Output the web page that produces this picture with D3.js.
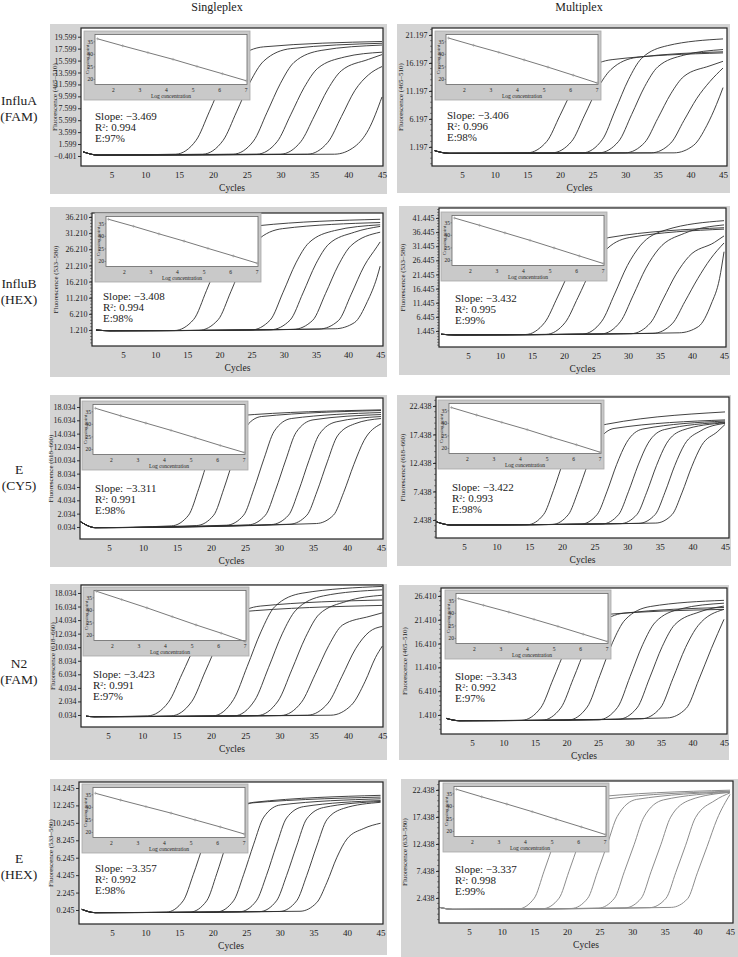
<!DOCTYPE html>
<html>
<head>
<meta charset="utf-8">
<script src="https://cdn.jsdelivr.net/npm/d3@7"></script>
<style>
body { margin: 0; background: #fff; }
svg { display: block; }
text { font-family: "Liberation Serif", "Times New Roman", serif; fill: #222; }
</style>
</head>
<body>
<svg width="738" height="957"></svg>
<script>
// ---- data ----
const columns = ['Singleplex', 'Multiplex'];
const rowLabels = [['InfluA', '(FAM)'], ['InfluB', '(HEX)'], ['E', '(CY5)'], ['N2', '(FAM)'], ['E', '(HEX)']];

// panel order: row by row, singleplex then multiplex
const yTitles = [
    'Fluorescence (465–510)', 'Fluorescence (465–510)',
    'Fluorescence (533–580)', 'Fluorescence (533–580)',
    'Fluorescence (618–660)', 'Fluorescence (618–660)',
    'Fluorescence (618–660)', 'Fluorescence (465–510)',
    'Fluorescence (533–580)', 'Fluorescence (633–580)'
];
const yTicks = [
    [-0.401, 1.599, 3.599, 5.599, 7.599, 9.599, 11.599, 13.599, 15.599, 17.599, 19.599],
    [1.197, 6.197, 11.197, 16.197, 21.197],
    [1.210, 6.210, 11.210, 16.210, 21.210, 26.210, 31.210, 36.210],
    [1.445, 6.445, 11.445, 16.445, 21.445, 26.445, 31.445, 36.445, 41.445],
    [0.034, 2.034, 4.034, 6.034, 8.034, 10.034, 12.034, 14.034, 16.034, 18.034],
    [2.438, 7.438, 12.438, 17.438, 22.438],
    [0.034, 2.034, 4.034, 6.034, 8.034, 10.034, 12.034, 14.034, 16.034, 18.034],
    [1.410, 6.410, 11.410, 16.410, 21.410, 26.410],
    [0.245, 2.245, 4.245, 6.245, 8.245, 10.245, 12.245, 14.245],
    [2.438, 7.438, 12.438, 17.438, 22.438]
];
const xTicks = [5, 10, 15, 20, 25, 30, 35, 40, 45];

const slopes = ['−3.469', '−3.406', '−3.408', '−3.432', '−3.311', '−3.422', '−3.423', '−3.343', '−3.357', '−3.337'];
const r2 = ['0.994', '0.996', '0.994', '0.995', '0.991', '0.993', '0.991', '0.992', '0.992', '0.998'];
const eff = ['97%', '98%', '98%', '99%', '98%', '98%', '97%', '97%', '98%', '99%'];

// standard curve insets
const logConc = [1.4, 2.35, 3.3, 4.25, 5.15, 6.1, 7.0];
const crossing = [
    [36.2, 33.4, 30.7, 28.0, 25.2, 22.3, 19.5],
    [36.5, 33.6, 30.8, 27.8, 24.9, 21.7, 18.6],
    [36.8, 34.0, 31.0, 28.1, 25.2, 22.2, 19.3],
    [36.9, 34.0, 31.0, 28.0, 25.0, 21.8, 18.8],
    [36.4, 33.4, 30.5, 27.6, 24.7, 21.6, 18.8],
    [36.3, 33.3, 30.4, 27.5, 24.5, 21.5, 18.5],
    [37.6, 34.3, 31.0, 27.5, 24.2, 20.9, 17.6],
    [35.9, 33.2, 30.5, 27.6, 24.8, 21.7, 18.8],
    [35.6, 32.9, 30.3, 27.7, 25.0, 22.2, 19.4],
    [36.8, 33.8, 30.9, 27.9, 24.9, 21.8, 18.8]
];
const insetXTicks = [2, 3, 4, 5, 6, 7];
const insetYTicks = [20, 25, 30, 35];

// amplification curves, [cycle, fluorescence]
const curves = [
    [ // InfluA singleplex
        [[0.8,0.3],[3,-0.25],[14.5,-0.1],[17.5,2.2],[19.5,7.1],[21.5,12.2],[23.5,15.8],[27.5,17.9],[45,18.8]],
        [[0.8,0.3],[3,-0.25],[18.5,-0.1],[21.5,2.2],[23.5,7.0],[25.5,12.0],[27.5,15.5],[31.5,17.6],[45,18.5]],
        [[0.8,0.3],[3,-0.25],[23,-0.1],[26,2.1],[28,6.9],[30,11.8],[32,15.3],[36,17.3],[45,18.2]],
        [[0.8,0.3],[3,-0.25],[26.5,-0.1],[29.5,2.0],[31.5,6.5],[33.5,11.1],[35.5,14.3],[39.5,16.2],[45,17.0]],
        [[0.8,0.3],[3,-0.25],[30,-0.1],[33,2.0],[35,6.3],[37,10.8],[39,13.9],[43,15.8],[45,16.6]],
        [[0.8,0.3],[3,-0.25],[34,-0.1],[37,1.9],[39,6.2],[41,10.6],[43,13.2],[45,14.6]],
        [[0.8,0.3],[3,-0.25],[38,-0.1],[41,1.2],[43,4.0],[45,9.5]]
    ],
    [ // InfluA multiplex
        [[0.8,0.54],[3,0.07],[15,0.15],[18,2.2],[20,6.8],[22,11.5],[24,14.8],[28,16.8],[45,18.0]],
        [[0.8,0.54],[3,0.07],[18.8,0.15],[21.8,2.2],[23.8,6.9],[25.8,11.7],[27.8,15.0],[31.8,17.2],[45,18.2]],
        [[0.8,0.54],[3,0.07],[23.5,0.15],[26.5,2.5],[28.5,7.8],[30.5,13.2],[32.5,17.0],[36.5,19.3],[45,20.5]],
        [[0.8,0.54],[3,0.07],[26,0.15],[29,2.2],[31,7.0],[33,12.0],[35,15.5],[39,17.6],[45,18.6]],
        [[0.8,0.54],[3,0.07],[30,0.15],[33,2.0],[35,6.3],[37,10.7],[39,13.8],[43,15.7],[45,16.5]],
        [[0.8,0.54],[3,0.07],[34,0.15],[37,1.9],[39,5.9],[41,9.9],[43,12.9],[45,15.3]],
        [[0.8,0.54],[3,0.07],[37.5,0.15],[40.5,1.5],[42.5,5.0],[44,8.8],[45,11.8]]
    ],
    [ // InfluB singleplex
        [[0.8,1.2],[3,0.98],[13,1.05],[16,4.5],[18,13.5],[20,23.0],[22,29.5],[26,33.5],[45,35.5]],
        [[0.8,1.2],[3,0.98],[16.8,1.1],[19.8,4.4],[21.8,13.2],[23.8,22.5],[25.8,28.8],[29.8,32.6],[45,34.5]],
        [[0.8,1.2],[3,0.98],[24.9,1.2],[27.9,4.3],[29.9,12.9],[31.9,22.0],[33.9,28.2],[37.9,32.0],[45,33.8]],
        [[0.8,1.2],[3,0.98],[28,1.3],[31,4.3],[33,12.7],[35,21.7],[37,27.8],[41,31.5],[45,33.3]],
        [[0.8,1.2],[3,0.98],[31.5,1.4],[34.5,4.2],[36.5,12.5],[38.5,21.3],[40.5,27.4],[45,31.5]],
        [[0.8,1.2],[3,0.98],[35.5,1.5],[38.5,4.1],[40.5,12.3],[42.5,21.0],[44.5,27.0],[45,28.5]],
        [[0.8,1.2],[3,0.98],[38,1.6],[41,3.5],[43,10.0],[44.5,17.5],[45,21.0]]
    ],
    [ // InfluB multiplex
        [[0.8,0.3],[3,0.05],[14,0.2],[17,4.5],[19,13.5],[21,23.0],[23,29.5],[27,34.5],[45,38.0]],
        [[0.8,0.3],[3,0.05],[17.2,0.25],[20.2,4.5],[22.2,13.4],[24.2,22.8],[26.2,29.3],[30.2,34.5],[45,37.5]],
        [[0.8,0.3],[3,0.05],[22.9,0.35],[25.9,4.9],[27.9,14.5],[29.9,24.6],[31.9,31.6],[35.9,37.2],[45,40.5]],
        [[0.8,0.3],[3,0.05],[25.8,0.4],[28.8,4.7],[30.8,14.0],[32.8,23.7],[34.8,30.5],[38.8,36.0],[45,39.0]],
        [[0.8,0.3],[3,0.05],[30.5,0.5],[33.5,4.3],[35.5,12.8],[37.5,21.5],[39.5,27.8],[43.5,32.8],[45,35.1]],
        [[0.8,0.3],[3,0.05],[33.9,0.6],[36.9,4.0],[38.9,11.9],[40.9,20.0],[42.9,27.0],[45,32.6]],
        [[0.8,0.3],[3,0.05],[38,0.8],[41,3.0],[43,11.0],[44.3,20.0],[45,29.5]]
    ],
    [ // E (CY5) singleplex
        [[0.8,0.83],[3,-0.07],[14.2,0.2],[16.7,1.8],[18.2,5.8],[19.7,10.6],[21.2,14.8],[23.7,16.7],[45,17.6]],
        [[0.8,0.83],[3,-0.07],[17.9,0.25],[20.4,1.8],[21.9,5.8],[23.4,10.5],[24.9,14.7],[27.4,16.6],[45,17.5]],
        [[0.8,0.83],[3,-0.07],[22.3,0.3],[24.8,1.8],[26.3,5.7],[27.8,10.3],[29.3,14.4],[31.8,16.3],[45,17.2]],
        [[0.8,0.83],[3,-0.07],[25.5,0.35],[28,1.8],[29.5,5.6],[31,10.1],[32.5,14.2],[35,16.1],[45,16.9]],
        [[0.8,0.83],[3,-0.07],[28.9,0.4],[31.4,1.8],[32.9,5.5],[34.4,10.0],[35.9,13.9],[38.4,15.8],[45,16.6]],
        [[0.8,0.83],[3,-0.07],[31.6,0.45],[34.1,1.8],[35.6,5.4],[37.1,9.8],[38.6,13.7],[41.1,15.5],[45,16.3]],
        [[0.8,0.83],[3,-0.07],[35.5,0.55],[38,1.8],[39.5,5.2],[41,9.4],[42.5,13.0],[45,15.5]]
    ],
    [ // E (CY5) multiplex
        [[0.8,2.1],[3,1.56],[14.7,1.6],[17.2,3.4],[18.7,7.6],[20.2,12.6],[21.7,16.4],[24.2,18.6],[45,21.4]],
        [[0.8,2.1],[3,1.56],[18.5,1.65],[21,3.4],[22.5,7.5],[24,12.3],[25.5,16.1],[28,18.5],[45,20.0]],
        [[0.8,2.1],[3,1.56],[22.9,1.7],[25.4,3.4],[26.9,7.4],[28.4,12.2],[29.9,16.0],[32.4,18.4],[45,19.8]],
        [[0.8,2.1],[3,1.56],[26.2,1.75],[28.7,3.4],[30.2,7.4],[31.7,12.1],[33.2,15.9],[35.7,18.3],[45,19.6]],
        [[0.8,2.1],[3,1.56],[29,1.8],[31.5,3.4],[33,7.3],[34.5,12.0],[36,15.8],[38.5,18.2],[45,19.5]],
        [[0.8,2.1],[3,1.56],[31.8,1.85],[34.3,3.4],[35.8,7.3],[37.3,12.0],[38.8,15.7],[41.3,18.1],[45,19.4]],
        [[0.8,2.1],[3,1.56],[34.4,1.9],[36.9,3.4],[38.4,7.2],[39.9,11.8],[41.4,15.5],[43.9,18.0],[45,19.2]]
    ],
    [ // N2 singleplex
        [[1.8,-0.15],[3,-0.22],[10.8,-0.1],[13.8,1.9],[15.8,6.1],[17.8,10.4],[19.8,13.4],[23.8,15.2],[45,16.2]],
        [[1.8,-0.15],[3,-0.22],[14.2,-0.1],[17.2,2.0],[19.2,6.5],[21.2,11.0],[23.2,14.3],[27.2,16.1],[45,17.0]],
        [[1.8,-0.15],[3,-0.22],[20.3,-0.1],[23.3,2.3],[25.3,7.2],[27.3,12.3],[29.3,16.0],[33.3,18.0],[45,19.0]],
        [[1.8,-0.15],[3,-0.22],[23.4,-0.1],[26.4,2.2],[28.4,7.0],[30.4,12.0],[32.4,15.5],[36.4,17.6],[45,18.5]],
        [[1.8,-0.15],[3,-0.22],[26.8,-0.05],[29.8,2.1],[31.8,6.7],[33.8,11.5],[35.8,14.9],[39.8,16.8],[45,17.7]],
        [[1.8,-0.15],[3,-0.22],[30.2,-0.05],[33.2,1.9],[35.2,6.0],[37.2,10.3],[39.2,13.3],[43.2,14.6],[45,15.1]],
        [[1.8,-0.15],[3,-0.22],[34.1,0],[37.1,1.8],[39.1,5.7],[41.1,9.8],[43.1,12.3],[45,13.1]],
        [[1.8,-0.15],[3,-0.22],[37.5,0],[40.5,1.5],[42.5,5.0],[44,8.5],[45,10.2]]
    ],
    [ // N2 multiplex
        [[0.9,0.7],[3,0.21],[12.9,0.3],[15.9,2.9],[17.9,9.0],[19.9,15.3],[21.9,19.8],[25.9,22.5],[45,23.6]],
        [[0.9,0.7],[3,0.21],[16.1,0.3],[19.1,2.9],[21.1,9.1],[23.1,15.6],[25.1,20.2],[29.1,22.8],[45,24.0]],
        [[0.9,0.7],[3,0.21],[20.3,0.35],[23.3,3.1],[25.3,9.7],[27.3,16.6],[29.3,21.4],[33.3,24.2],[45,25.5]],
        [[0.9,0.7],[3,0.21],[25.1,0.4],[28.1,3.0],[30.1,9.5],[32.1,16.2],[34.1,20.9],[38.1,23.7],[45,24.9]],
        [[0.9,0.7],[3,0.21],[28.2,0.5],[31.2,2.9],[33.2,9.2],[35.2,15.8],[37.2,20.4],[41.2,23.1],[45,24.3]],
        [[0.9,0.7],[3,0.21],[31.9,0.6],[34.9,2.9],[36.9,9.1],[38.9,15.6],[40.9,20.2],[45,23.6]],
        [[0.9,0.7],[3,0.21],[36,0.8],[39,2.8],[41,8.8],[43,15.4],[45,21.5]]
    ],
    [ // E (HEX) singleplex
        [[0.5,0.32],[2.5,-0.06],[13.1,0],[15.6,1.3],[17.1,4.3],[18.6,7.7],[20.1,10.8],[22.6,12.3],[45,13.2]],
        [[0.5,0.32],[2.5,-0.06],[16.6,0],[19.1,1.3],[20.6,4.4],[22.1,8.0],[23.6,11.2],[26.1,12.6],[45,13.4]],
        [[0.5,0.32],[2.5,-0.06],[20.6,0.02],[23.1,1.3],[24.6,4.3],[26.1,7.8],[27.6,10.9],[30.1,12.3],[45,13.0]],
        [[0.5,0.32],[2.5,-0.06],[24,0.04],[26.5,1.3],[28,4.2],[29.5,7.7],[31,10.8],[33.5,12.1],[45,12.8]],
        [[0.5,0.32],[2.5,-0.06],[27,0.06],[29.5,1.3],[31,4.2],[32.5,7.6],[34,10.7],[36.5,12.0],[45,12.7]],
        [[0.5,0.32],[2.5,-0.06],[30,0.08],[32.5,1.3],[34,4.2],[35.5,7.6],[37,10.6],[39.5,11.9],[45,12.6]],
        [[0.5,0.32],[2.5,-0.06],[33,0.1],[35.5,1.1],[37,3.4],[38.5,6.3],[40,8.4],[42.5,9.6],[45,10.2]]
    ],
    [ // E (HEX) multiplex
        [[0.5,0.7],[2.5,0.34],[12.5,0.4],[15,2.4],[16.5,7.4],[18,12.6],[19.5,17.8],[22.5,20.9],[45,22.4]],
        [[0.5,0.7],[2.5,0.34],[16.3,0.45],[18.8,2.4],[20.3,7.3],[21.8,12.5],[23.3,17.6],[26.3,20.8],[45,22.2]],
        [[0.5,0.7],[2.5,0.34],[20.7,0.5],[23.2,2.4],[24.7,7.3],[26.2,12.4],[27.7,17.5],[30.7,20.7],[45,22.1]],
        [[0.5,0.7],[2.5,0.34],[24.8,0.55],[27.3,2.4],[28.8,7.3],[30.3,12.3],[31.8,17.4],[34.8,20.6],[45,22.0]],
        [[0.5,0.7],[2.5,0.34],[28.9,0.6],[31.4,2.4],[32.9,7.3],[34.4,12.3],[35.9,17.4],[38.9,20.6],[45,22.0]],
        [[0.5,0.7],[2.5,0.34],[32.7,0.65],[35.2,2.4],[36.7,7.2],[38.2,12.2],[39.7,17.3],[42.7,20.5],[45,21.9]],
        [[0.5,0.7],[2.5,0.34],[36,0.7],[38.5,2.3],[40,7.1],[41.5,12.0],[43,17.0],[45,21.6]]
    ]
];

// ---- layout (pixel boxes and axis domains per panel) ----
const layout = [
    {bg: [50, 24, 337, 170],  plot: [81, 28, 383, 166],   x: [0.5, 45.15],  y: [-2.08, 21.06], inset: [84, 31],   text: [95, 120],  yl: 57},
    {bg: [397, 24, 333, 169], plot: [432, 28, 727, 166],  x: [0.40, 45.61], y: [-2.2, 22.45],  inset: [435, 31],  text: [447, 119], yl: 403},
    {bg: [50, 207, 337, 170], plot: [92, 213, 383, 346],  x: [0.18, 45.44], y: [-3.74, 37.45], inset: [95, 213],  text: [103, 300], yl: 58},
    {bg: [399, 206, 331, 169],plot: [439, 208, 726, 347], x: [0.47, 45.31], y: [-4.22, 44.98], inset: [441, 212], text: [455, 302], yl: 405},
    {bg: [50, 395, 337, 172], plot: [80, 398, 383, 539],  x: [0.74, 45.29], y: [-1.77, 19.38], inset: [82, 401],  text: [95, 492],  yl: 53},
    {bg: [397, 395, 334, 171],plot: [436, 397, 729, 538], x: [0.71, 45.61], y: [-0.72, 24.02], inset: [438, 400], text: [452, 491], yl: 405},
    {bg: [50, 584, 337, 176], plot: [81, 585, 383, 727],  x: [1.06, 45.1],  y: [-1.74, 19.21], inset: [83, 587],  text: [93, 678],  yl: 55},
    {bg: [399, 585, 330, 175],plot: [441, 588, 727, 734], x: [0.08, 45.48], y: [-2.58, 28.09], inset: [445, 590], text: [455, 680], yl: 407},
    {bg: [50, 779, 337, 176], plot: [79, 782, 383, 924],  x: [0.085, 45.36],y: [-1.36, 14.93], inset: [82, 784],  text: [95, 872],  yl: 53},
    {bg: [401, 779, 337, 178],plot: [439, 781, 733, 923], x: [0.40, 45.46], y: [-2.19, 24.1],  inset: [443, 783], text: [455, 873], yl: 407}
];
const rowLabelY = [[105, 121], [288, 304], [474, 490], [668, 684], [863, 879]];

const svg = d3.select('svg');

// column titles
svg.selectAll('text.col')
    .data(columns).join('text')
    .attr('class', 'col')
    .attr('x', (d, i) => [217, 579][i])
    .attr('y', 11)
    .attr('text-anchor', 'middle')
    .attr('font-size', 12)
    .text(d => d);

// row labels
rowLabels.forEach((lab, r) => {
    svg.append('g').selectAll('text')
        .data(lab).join('text')
        .attr('x', 19)
        .attr('y', (d, i) => rowLabelY[r][i])
        .attr('text-anchor', 'middle')
        .attr('font-size', 13.5)
        .text(d => d);
});

const line = d3.line().curve(d3.curveMonotoneX);

layout.forEach((L, i) => {
    const g = svg.append('g');
    const [bx, by, bw, bh] = L.bg;
    const [x0, y0, x1, y1] = L.plot;

    g.append('rect')
        .attr('x', bx).attr('y', by)
        .attr('width', bw).attr('height', bh)
        .attr('fill', '#d4d4d4');
    g.append('rect')
        .attr('x', x0).attr('y', y0)
        .attr('width', x1 - x0).attr('height', y1 - y0)
        .attr('fill', '#fff');

    const x = d3.scaleLinear().domain(L.x).range([x0, x1]);
    const y = d3.scaleLinear().domain(L.y).range([y1, y0]);

    g.append('clipPath').attr('id', 'clip' + i)
        .append('rect')
        .attr('x', x0).attr('y', y0)
        .attr('width', x1 - x0).attr('height', y1 - y0);

    // amplification curves
    g.append('g')
        .attr('clip-path', `url(#clip${i})`)
        .selectAll('path')
        .data(curves[i]).join('path')
        .attr('d', d => line(d.map(p => [x(p[0]), y(p[1])])))
        .attr('fill', 'none')
        .attr('stroke', i === 9 ? '#8c8c8c' : '#2e2e2e')
        .attr('stroke-width', i === 9 ? 1 : 0.9);

    // minor ticks on the 5-step axes
    const step = yTicks[i][1] - yTicks[i][0];
    if (step > 3) {
        const minor = d3.range(yTicks[i][0] - 5, L.y[1], 1).filter(v => v > L.y[0]);
        g.append('g').selectAll('line')
            .data(minor).join('line')
            .attr('x1', x0 - 2).attr('x2', x0)
            .attr('y1', d => y(d)).attr('y2', d => y(d))
            .attr('stroke', '#444').attr('stroke-width', 0.6);
    }

    // y axis
    const yAxis = g.append('g')
        .attr('transform', `translate(${x0},0)`)
        .call(d3.axisLeft(y).tickValues(yTicks[i]).tickSize(3).tickPadding(1.5).tickFormat(d3.format('.3f')));
    yAxis.select('.domain').remove();
    yAxis.selectAll('text').attr('font-size', 8).attr('font-family', '"Liberation Serif", serif').attr('fill', '#222');
    yAxis.selectAll('line').attr('stroke', '#333');

    // x axis
    const xAxis = g.append('g')
        .attr('transform', `translate(0,${y1})`)
        .call(d3.axisBottom(x).tickValues(xTicks).tickSize(0).tickPadding(6));
    xAxis.select('.domain').remove();
    xAxis.selectAll('text').attr('font-size', 9).attr('font-family', '"Liberation Serif", serif').attr('fill', '#222');

    // frame
    g.append('rect')
        .attr('x', x0).attr('y', y0)
        .attr('width', x1 - x0).attr('height', y1 - y0)
        .attr('fill', 'none')
        .attr('stroke', '#222')
        .attr('stroke-width', 1.2);

    // axis titles
    g.append('text')
        .attr('transform', `translate(${L.yl},${(y0 + y1) / 2}) rotate(-90)`)
        .attr('text-anchor', 'middle')
        .attr('font-size', 7)
        .text(yTitles[i]);
    g.append('text')
        .attr('x', (x0 + x1) / 2)
        .attr('y', y1 + 25)
        .attr('text-anchor', 'middle')
        .attr('font-size', 9.5)
        .text('Cycles');

    // slope / R2 / efficiency
    const [tx, ty] = L.text;
    const t = g.append('g');
    t.append('text').attr('x', tx).attr('y', ty).attr('font-size', 11).text('Slope: ' + slopes[i]);
    const r = t.append('text').attr('x', tx).attr('y', ty + 11).attr('font-size', 11);
    r.append('tspan').text('R');
    r.append('tspan').attr('font-size', 6).attr('dy', -3.5).text('2');
    r.append('tspan').attr('dy', 3.5).text(': ' + r2[i]);
    t.append('text').attr('x', tx).attr('y', ty + 21.5).attr('font-size', 11).text('E:' + eff[i]);

    // inset standard curve
    const [ix, iy] = L.inset;
    const ig = g.append('g');
    ig.append('rect')
        .attr('x', ix).attr('y', iy)
        .attr('width', 166).attr('height', 69)
        .attr('fill', '#c9c9c9')
        .attr('stroke', '#a9a9a9').attr('stroke-width', 0.8);
    const ipx0 = ix + 11, ipx1 = ix + 163, ipy0 = iy + 3.5, ipy1 = iy + 53.5;
    ig.append('rect')
        .attr('x', ipx0).attr('y', ipy0)
        .attr('width', ipx1 - ipx0).attr('height', ipy1 - ipy0)
        .attr('fill', '#fff')
        .attr('stroke', '#666').attr('stroke-width', 0.8);
    const sx = d3.scaleLinear().domain([1.31, 7.03]).range([ipx0, ipx1]);
    const sy = d3.scaleLinear().domain([18.0, 37.9]).range([ipy1, ipy0]);

    ig.append('g').selectAll('text')
        .data(insetXTicks).join('text')
        .attr('x', d => sx(d))
        .attr('y', ipy1 + 7)
        .attr('text-anchor', 'middle')
        .attr('font-size', 5.5)
        .text(d => d);
    ig.append('g').selectAll('text')
        .data(insetYTicks).join('text')
        .attr('x', ipx0 - 2)
        .attr('y', d => sy(d) + 1.8)
        .attr('text-anchor', 'end')
        .attr('font-size', 5.5)
        .text(d => d);
    ig.append('g').selectAll('line')
        .data(insetYTicks).join('line')
        .attr('x1', ipx0 - 1.5).attr('x2', ipx0)
        .attr('y1', d => sy(d)).attr('y2', d => sy(d))
        .attr('stroke', '#555').attr('stroke-width', 0.5);
    ig.append('text')
        .attr('x', (ipx0 + ipx1) / 2)
        .attr('y', ipy1 + 13.5)
        .attr('text-anchor', 'middle')
        .attr('font-size', 5.5)
        .text('Log concentration');
    ig.append('text')
        .attr('transform', `translate(${ix + 4.5},${(ipy0 + ipy1) / 2}) rotate(-90)`)
        .attr('text-anchor', 'middle')
        .attr('font-size', 5)
        .text('Crossing point');

    const pts = logConc.map((c, k) => [sx(c), sy(crossing[i][k])]);
    ig.append('path')
        .attr('d', d3.line()(pts))
        .attr('fill', 'none')
        .attr('stroke', '#7a7a7a')
        .attr('stroke-width', 1);
    ig.append('g').selectAll('path')
        .data(pts).join('path')
        .attr('d', p => `M${p[0] - 1.5},${p[1]}h3M${p[0]},${p[1] - 1.5}v3`)
        .attr('stroke', '#999')
        .attr('stroke-width', 0.6);
});
</script>
</body>
</html>
